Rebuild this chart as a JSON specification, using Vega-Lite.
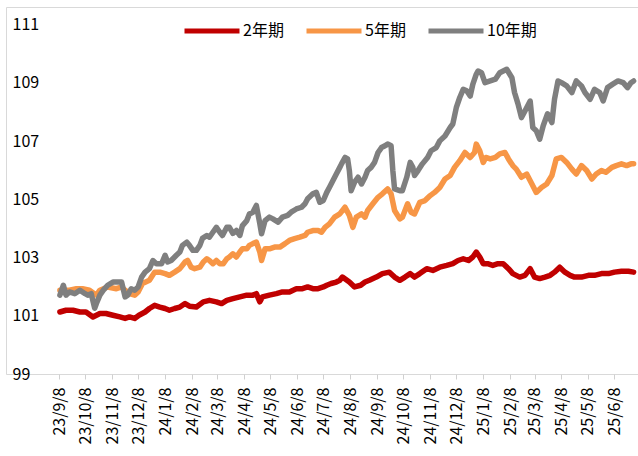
{
  "$schema": "https://vega.github.io/schema/vega-lite/v6.json",
  "width": 645,
  "height": 367,
  "autosize": "none",
  "padding": {"left": 6, "top": 7, "right": 0, "bottom": 82},
  "config": {
    "view": {"stroke": "#D9D9D9", "strokeWidth": 1},
    "font": "Noto Sans CJK SC"
  },
  "data": {
    "values": [
      {"d":"2023-09-09","s":"2年期","v":101.13},{"d":"2023-09-16","s":"2年期","v":101.19},{"d":"2023-09-24","s":"2年期","v":101.19},{"d":"2023-10-02","s":"2年期","v":101.13},{"d":"2023-10-09","s":"2年期","v":101.13},{"d":"2023-10-17","s":"2年期","v":100.96},{"d":"2023-10-25","s":"2年期","v":101.08},{"d":"2023-11-01","s":"2年期","v":101.08},{"d":"2023-11-09","s":"2年期","v":101.02},{"d":"2023-11-17","s":"2年期","v":100.96},{"d":"2023-11-23","s":"2年期","v":100.91},{"d":"2023-11-28","s":"2年期","v":100.96},{"d":"2023-12-04","s":"2年期","v":100.91},{"d":"2023-12-09","s":"2年期","v":101.02},{"d":"2023-12-16","s":"2年期","v":101.13},{"d":"2023-12-21","s":"2年期","v":101.25},{"d":"2023-12-27","s":"2年期","v":101.36},{"d":"2024-01-02","s":"2年期","v":101.30},{"d":"2024-01-08","s":"2年期","v":101.25},{"d":"2024-01-13","s":"2年期","v":101.19},{"d":"2024-01-19","s":"2年期","v":101.25},{"d":"2024-01-25","s":"2年期","v":101.30},{"d":"2024-01-31","s":"2年期","v":101.42},{"d":"2024-02-05","s":"2年期","v":101.33},{"d":"2024-02-13","s":"2年期","v":101.30},{"d":"2024-02-21","s":"2年期","v":101.48},{"d":"2024-02-28","s":"2年期","v":101.53},{"d":"2024-03-07","s":"2年期","v":101.48},{"d":"2024-03-13","s":"2年期","v":101.42},{"d":"2024-03-19","s":"2年期","v":101.53},{"d":"2024-03-26","s":"2年期","v":101.59},{"d":"2024-04-03","s":"2年期","v":101.65},{"d":"2024-04-11","s":"2年期","v":101.71},{"d":"2024-04-18","s":"2年期","v":101.71},{"d":"2024-04-22","s":"2年期","v":101.76},{"d":"2024-04-26","s":"2年期","v":101.48},{"d":"2024-04-29","s":"2年期","v":101.65},{"d":"2024-05-07","s":"2年期","v":101.71},{"d":"2024-05-15","s":"2年期","v":101.76},{"d":"2024-05-22","s":"2年期","v":101.82},{"d":"2024-05-30","s":"2年期","v":101.82},{"d":"2024-06-07","s":"2年期","v":101.93},{"d":"2024-06-14","s":"2年期","v":101.93},{"d":"2024-06-20","s":"2年期","v":101.99},{"d":"2024-06-26","s":"2年期","v":101.93},{"d":"2024-07-02","s":"2年期","v":101.93},{"d":"2024-07-08","s":"2年期","v":101.99},{"d":"2024-07-12","s":"2年期","v":102.05},{"d":"2024-07-17","s":"2年期","v":102.11},{"d":"2024-07-23","s":"2年期","v":102.16},{"d":"2024-07-27","s":"2年期","v":102.22},{"d":"2024-07-30","s":"2年期","v":102.33},{"d":"2024-08-07","s":"2年期","v":102.16},{"d":"2024-08-13","s":"2年期","v":101.99},{"d":"2024-08-20","s":"2年期","v":102.05},{"d":"2024-08-25","s":"2年期","v":102.16},{"d":"2024-08-30","s":"2年期","v":102.22},{"d":"2024-09-07","s":"2年期","v":102.33},{"d":"2024-09-14","s":"2年期","v":102.45},{"d":"2024-09-22","s":"2年期","v":102.50},{"d":"2024-09-28","s":"2年期","v":102.33},{"d":"2024-10-04","s":"2年期","v":102.22},{"d":"2024-10-10","s":"2年期","v":102.33},{"d":"2024-10-16","s":"2年期","v":102.45},{"d":"2024-10-21","s":"2年期","v":102.33},{"d":"2024-10-27","s":"2年期","v":102.45},{"d":"2024-11-04","s":"2年期","v":102.62},{"d":"2024-11-11","s":"2年期","v":102.56},{"d":"2024-11-19","s":"2年期","v":102.67},{"d":"2024-11-27","s":"2年期","v":102.73},{"d":"2024-12-04","s":"2年期","v":102.79},{"d":"2024-12-10","s":"2年期","v":102.90},{"d":"2024-12-16","s":"2年期","v":102.96},{"d":"2024-12-22","s":"2年期","v":102.90},{"d":"2024-12-27","s":"2年期","v":103.02},{"d":"2024-12-31","s":"2年期","v":103.19},{"d":"2025-01-04","s":"2年期","v":103.02},{"d":"2025-01-08","s":"2年期","v":102.79},{"d":"2025-01-13","s":"2年期","v":102.79},{"d":"2025-01-19","s":"2年期","v":102.73},{"d":"2025-01-25","s":"2年期","v":102.79},{"d":"2025-01-31","s":"2年期","v":102.79},{"d":"2025-02-06","s":"2年期","v":102.62},{"d":"2025-02-11","s":"2年期","v":102.45},{"d":"2025-02-19","s":"2年期","v":102.33},{"d":"2025-02-25","s":"2年期","v":102.39},{"d":"2025-03-03","s":"2年期","v":102.62},{"d":"2025-03-08","s":"2年期","v":102.33},{"d":"2025-03-14","s":"2年期","v":102.28},{"d":"2025-03-20","s":"2年期","v":102.33},{"d":"2025-03-26","s":"2年期","v":102.39},{"d":"2025-03-31","s":"2年期","v":102.50},{"d":"2025-04-06","s":"2年期","v":102.67},{"d":"2025-04-12","s":"2年期","v":102.50},{"d":"2025-04-18","s":"2年期","v":102.39},{"d":"2025-04-23","s":"2年期","v":102.33},{"d":"2025-05-01","s":"2年期","v":102.33},{"d":"2025-05-09","s":"2年期","v":102.39},{"d":"2025-05-16","s":"2年期","v":102.39},{"d":"2025-05-24","s":"2年期","v":102.45},{"d":"2025-06-01","s":"2年期","v":102.45},{"d":"2025-06-08","s":"2年期","v":102.50},{"d":"2025-06-16","s":"2年期","v":102.53},{"d":"2025-06-24","s":"2年期","v":102.53},{"d":"2025-06-30","s":"2年期","v":102.50},
      {"d":"2023-09-09","s":"5年期","v":101.88},{"d":"2023-09-20","s":"5年期","v":101.88},{"d":"2023-09-28","s":"5年期","v":101.93},{"d":"2023-10-05","s":"5年期","v":101.93},{"d":"2023-10-13","s":"5年期","v":101.88},{"d":"2023-10-21","s":"5年期","v":101.71},{"d":"2023-10-25","s":"5年期","v":101.88},{"d":"2023-11-03","s":"5年期","v":101.99},{"d":"2023-11-13","s":"5年期","v":101.93},{"d":"2023-11-19","s":"5年期","v":101.99},{"d":"2023-11-23","s":"5年期","v":101.88},{"d":"2023-11-28","s":"5年期","v":101.76},{"d":"2023-12-04","s":"5年期","v":101.71},{"d":"2023-12-08","s":"5年期","v":101.82},{"d":"2023-12-13","s":"5年期","v":102.11},{"d":"2023-12-21","s":"5年期","v":102.22},{"d":"2023-12-27","s":"5年期","v":102.50},{"d":"2024-01-02","s":"5年期","v":102.50},{"d":"2024-01-08","s":"5年期","v":102.45},{"d":"2024-01-13","s":"5年期","v":102.39},{"d":"2024-01-19","s":"5年期","v":102.50},{"d":"2024-01-25","s":"5年期","v":102.62},{"d":"2024-01-31","s":"5年期","v":102.85},{"d":"2024-02-03","s":"5年期","v":102.90},{"d":"2024-02-07","s":"5年期","v":102.67},{"d":"2024-02-11","s":"5年期","v":102.62},{"d":"2024-02-17","s":"5年期","v":102.67},{"d":"2024-02-21","s":"5年期","v":102.85},{"d":"2024-02-25","s":"5年期","v":102.96},{"d":"2024-02-28","s":"5年期","v":102.90},{"d":"2024-03-03","s":"5年期","v":102.79},{"d":"2024-03-07","s":"5年期","v":102.90},{"d":"2024-03-11","s":"5年期","v":102.79},{"d":"2024-03-15","s":"5年期","v":102.79},{"d":"2024-03-19","s":"5年期","v":102.96},{"d":"2024-03-22","s":"5年期","v":103.02},{"d":"2024-03-26","s":"5年期","v":103.13},{"d":"2024-03-30","s":"5年期","v":103.02},{"d":"2024-04-03","s":"5年期","v":103.19},{"d":"2024-04-06","s":"5年期","v":103.30},{"d":"2024-04-11","s":"5年期","v":103.30},{"d":"2024-04-14","s":"5年期","v":103.42},{"d":"2024-04-18","s":"5年期","v":103.48},{"d":"2024-04-22","s":"5年期","v":103.53},{"d":"2024-04-26","s":"5年期","v":103.19},{"d":"2024-04-28","s":"5年期","v":102.90},{"d":"2024-05-02","s":"5年期","v":103.30},{"d":"2024-05-07","s":"5年期","v":103.30},{"d":"2024-05-13","s":"5年期","v":103.36},{"d":"2024-05-19","s":"5年期","v":103.36},{"d":"2024-05-25","s":"5年期","v":103.48},{"d":"2024-05-30","s":"5年期","v":103.59},{"d":"2024-06-05","s":"5年期","v":103.65},{"d":"2024-06-11","s":"5年期","v":103.70},{"d":"2024-06-17","s":"5年期","v":103.76},{"d":"2024-06-20","s":"5年期","v":103.87},{"d":"2024-06-26","s":"5年期","v":103.93},{"d":"2024-07-02","s":"5年期","v":103.93},{"d":"2024-07-06","s":"5年期","v":103.87},{"d":"2024-07-10","s":"5年期","v":104.04},{"d":"2024-07-15","s":"5年期","v":104.16},{"d":"2024-07-21","s":"5年期","v":104.39},{"d":"2024-07-27","s":"5年期","v":104.50},{"d":"2024-08-02","s":"5年期","v":104.73},{"d":"2024-08-07","s":"5年期","v":104.45},{"d":"2024-08-11","s":"5年期","v":104.04},{"d":"2024-08-15","s":"5年期","v":104.39},{"d":"2024-08-21","s":"5年期","v":104.50},{"d":"2024-08-25","s":"5年期","v":104.39},{"d":"2024-08-28","s":"5年期","v":104.62},{"d":"2024-09-03","s":"5年期","v":104.85},{"d":"2024-09-09","s":"5年期","v":105.07},{"d":"2024-09-14","s":"5年期","v":105.19},{"d":"2024-09-20","s":"5年期","v":105.36},{"d":"2024-09-24","s":"5年期","v":105.19},{"d":"2024-09-28","s":"5年期","v":104.62},{"d":"2024-10-04","s":"5年期","v":104.33},{"d":"2024-10-07","s":"5年期","v":104.39},{"d":"2024-10-13","s":"5年期","v":104.85},{"d":"2024-10-17","s":"5年期","v":104.56},{"d":"2024-10-21","s":"5年期","v":104.50},{"d":"2024-10-27","s":"5年期","v":104.90},{"d":"2024-11-02","s":"5年期","v":104.96},{"d":"2024-11-08","s":"5年期","v":105.13},{"d":"2024-11-13","s":"5年期","v":105.24},{"d":"2024-11-19","s":"5年期","v":105.41},{"d":"2024-11-25","s":"5年期","v":105.70},{"d":"2024-12-01","s":"5年期","v":105.82},{"d":"2024-12-06","s":"5年期","v":106.10},{"d":"2024-12-12","s":"5年期","v":106.33},{"d":"2024-12-18","s":"5年期","v":106.61},{"d":"2024-12-24","s":"5年期","v":106.44},{"d":"2024-12-29","s":"5年期","v":106.61},{"d":"2024-12-31","s":"5年期","v":106.90},{"d":"2025-01-04","s":"5年期","v":106.67},{"d":"2025-01-08","s":"5年期","v":106.27},{"d":"2025-01-11","s":"5年期","v":106.44},{"d":"2025-01-16","s":"5年期","v":106.39},{"d":"2025-01-22","s":"5年期","v":106.44},{"d":"2025-01-27","s":"5年期","v":106.56},{"d":"2025-02-02","s":"5年期","v":106.61},{"d":"2025-02-06","s":"5年期","v":106.39},{"d":"2025-02-11","s":"5年期","v":106.16},{"d":"2025-02-15","s":"5年期","v":106.04},{"d":"2025-02-21","s":"5年期","v":105.76},{"d":"2025-02-27","s":"5年期","v":105.87},{"d":"2025-03-05","s":"5年期","v":105.53},{"d":"2025-03-10","s":"5年期","v":105.24},{"d":"2025-03-16","s":"5年期","v":105.41},{"d":"2025-03-22","s":"5年期","v":105.53},{"d":"2025-03-28","s":"5年期","v":105.82},{"d":"2025-04-02","s":"5年期","v":106.39},{"d":"2025-04-08","s":"5年期","v":106.44},{"d":"2025-04-14","s":"5年期","v":106.27},{"d":"2025-04-20","s":"5年期","v":106.04},{"d":"2025-04-25","s":"5年期","v":105.87},{"d":"2025-05-01","s":"5年期","v":106.16},{"d":"2025-05-07","s":"5年期","v":105.99},{"d":"2025-05-13","s":"5年期","v":105.70},{"d":"2025-05-18","s":"5年期","v":105.87},{"d":"2025-05-24","s":"5年期","v":105.99},{"d":"2025-05-29","s":"5年期","v":105.93},{"d":"2025-06-05","s":"5年期","v":106.10},{"d":"2025-06-10","s":"5年期","v":106.16},{"d":"2025-06-16","s":"5年期","v":106.22},{"d":"2025-06-22","s":"5年期","v":106.16},{"d":"2025-06-27","s":"5年期","v":106.22},{"d":"2025-06-30","s":"5年期","v":106.22},
      {"d":"2023-09-09","s":"10年期","v":101.71},{"d":"2023-09-13","s":"10年期","v":102.05},{"d":"2023-09-16","s":"10年期","v":101.71},{"d":"2023-09-20","s":"10年期","v":101.82},{"d":"2023-09-26","s":"10年期","v":101.76},{"d":"2023-10-02","s":"10年期","v":101.88},{"d":"2023-10-08","s":"10年期","v":101.76},{"d":"2023-10-11","s":"10年期","v":101.71},{"d":"2023-10-15","s":"10年期","v":101.76},{"d":"2023-10-19","s":"10年期","v":101.26},{"d":"2023-10-21","s":"10年期","v":101.42},{"d":"2023-10-25","s":"10年期","v":101.71},{"d":"2023-10-29","s":"10年期","v":101.88},{"d":"2023-11-03","s":"10年期","v":102.05},{"d":"2023-11-09","s":"10年期","v":102.16},{"d":"2023-11-15","s":"10年期","v":102.16},{"d":"2023-11-19","s":"10年期","v":102.16},{"d":"2023-11-23","s":"10年期","v":101.65},{"d":"2023-11-26","s":"10年期","v":101.71},{"d":"2023-11-30","s":"10年期","v":101.93},{"d":"2023-12-04","s":"10年期","v":101.88},{"d":"2023-12-08","s":"10年期","v":101.99},{"d":"2023-12-12","s":"10年期","v":102.33},{"d":"2023-12-16","s":"10年期","v":102.50},{"d":"2023-12-21","s":"10年期","v":102.62},{"d":"2023-12-25","s":"10年期","v":102.90},{"d":"2023-12-29","s":"10年期","v":102.79},{"d":"2024-01-04","s":"10年期","v":102.79},{"d":"2024-01-08","s":"10年期","v":103.08},{"d":"2024-01-11","s":"10年期","v":102.85},{"d":"2024-01-15","s":"10年期","v":102.90},{"d":"2024-01-21","s":"10年期","v":103.08},{"d":"2024-01-25","s":"10年期","v":103.19},{"d":"2024-01-28","s":"10年期","v":103.42},{"d":"2024-02-02","s":"10年期","v":103.53},{"d":"2024-02-05","s":"10年期","v":103.42},{"d":"2024-02-09","s":"10年期","v":103.25},{"d":"2024-02-13","s":"10年期","v":103.25},{"d":"2024-02-17","s":"10年期","v":103.42},{"d":"2024-02-20","s":"10年期","v":103.66},{"d":"2024-02-25","s":"10年期","v":103.76},{"d":"2024-02-28","s":"10年期","v":103.70},{"d":"2024-03-03","s":"10年期","v":103.87},{"d":"2024-03-07","s":"10年期","v":104.04},{"d":"2024-03-11","s":"10年期","v":103.87},{"d":"2024-03-14","s":"10年期","v":103.76},{"d":"2024-03-19","s":"10年期","v":104.04},{"d":"2024-03-22","s":"10年期","v":104.04},{"d":"2024-03-26","s":"10年期","v":103.83},{"d":"2024-03-30","s":"10年期","v":103.93},{"d":"2024-04-03","s":"10年期","v":103.76},{"d":"2024-04-06","s":"10年期","v":104.10},{"d":"2024-04-11","s":"10年期","v":104.27},{"d":"2024-04-14","s":"10年期","v":104.50},{"d":"2024-04-18","s":"10年期","v":104.56},{"d":"2024-04-22","s":"10年期","v":104.79},{"d":"2024-04-26","s":"10年期","v":104.16},{"d":"2024-04-28","s":"10年期","v":103.82},{"d":"2024-05-02","s":"10年期","v":104.27},{"d":"2024-05-07","s":"10年期","v":104.39},{"d":"2024-05-11","s":"10年期","v":104.33},{"d":"2024-05-17","s":"10年期","v":104.22},{"d":"2024-05-22","s":"10年期","v":104.39},{"d":"2024-05-28","s":"10年期","v":104.45},{"d":"2024-06-01","s":"10年期","v":104.56},{"d":"2024-06-07","s":"10年期","v":104.67},{"d":"2024-06-13","s":"10年期","v":104.73},{"d":"2024-06-17","s":"10年期","v":104.85},{"d":"2024-06-20","s":"10年期","v":105.02},{"d":"2024-06-26","s":"10年期","v":105.19},{"d":"2024-06-30","s":"10年期","v":105.24},{"d":"2024-07-04","s":"10年期","v":104.90},{"d":"2024-07-08","s":"10年期","v":104.96},{"d":"2024-07-12","s":"10年期","v":105.24},{"d":"2024-07-15","s":"10年期","v":105.41},{"d":"2024-07-19","s":"10年期","v":105.64},{"d":"2024-07-23","s":"10年期","v":105.87},{"d":"2024-07-27","s":"10年期","v":106.10},{"d":"2024-07-29","s":"10年期","v":106.22},{"d":"2024-08-02","s":"10年期","v":106.44},{"d":"2024-08-05","s":"10年期","v":106.39},{"d":"2024-08-07","s":"10年期","v":105.99},{"d":"2024-08-09","s":"10年期","v":105.30},{"d":"2024-08-13","s":"10年期","v":105.59},{"d":"2024-08-17","s":"10年期","v":105.76},{"d":"2024-08-21","s":"10年期","v":105.53},{"d":"2024-08-25","s":"10年期","v":105.76},{"d":"2024-08-28","s":"10年期","v":105.99},{"d":"2024-09-01","s":"10年期","v":106.10},{"d":"2024-09-05","s":"10年期","v":106.27},{"d":"2024-09-09","s":"10年期","v":106.61},{"d":"2024-09-13","s":"10年期","v":106.78},{"d":"2024-09-17","s":"10年期","v":106.84},{"d":"2024-09-20","s":"10年期","v":106.90},{"d":"2024-09-24","s":"10年期","v":106.84},{"d":"2024-09-26","s":"10年期","v":105.99},{"d":"2024-09-28","s":"10年期","v":105.36},{"d":"2024-10-04","s":"10年期","v":105.30},{"d":"2024-10-07","s":"10年期","v":105.30},{"d":"2024-10-12","s":"10年期","v":105.76},{"d":"2024-10-16","s":"10年期","v":106.27},{"d":"2024-10-19","s":"10年期","v":106.10},{"d":"2024-10-21","s":"10年期","v":105.82},{"d":"2024-10-25","s":"10年期","v":105.99},{"d":"2024-10-30","s":"10年期","v":106.22},{"d":"2024-11-05","s":"10年期","v":106.44},{"d":"2024-11-09","s":"10年期","v":106.67},{"d":"2024-11-15","s":"10年期","v":106.78},{"d":"2024-11-19","s":"10年期","v":107.01},{"d":"2024-11-25","s":"10年期","v":107.18},{"d":"2024-12-01","s":"10年期","v":107.47},{"d":"2024-12-04","s":"10年期","v":107.59},{"d":"2024-12-08","s":"10年期","v":108.15},{"d":"2024-12-12","s":"10年期","v":108.50},{"d":"2024-12-16","s":"10年期","v":108.78},{"d":"2024-12-20","s":"10年期","v":108.73},{"d":"2024-12-24","s":"10年期","v":108.55},{"d":"2024-12-27","s":"10年期","v":108.95},{"d":"2024-12-31","s":"10年期","v":109.30},{"d":"2025-01-02","s":"10年期","v":109.41},{"d":"2025-01-06","s":"10年期","v":109.35},{"d":"2025-01-10","s":"10年期","v":109.01},{"d":"2025-01-16","s":"10年期","v":109.07},{"d":"2025-01-22","s":"10年期","v":109.13},{"d":"2025-01-27","s":"10年期","v":109.35},{"d":"2025-02-04","s":"10年期","v":109.47},{"d":"2025-02-10","s":"10年期","v":109.18},{"d":"2025-02-13","s":"10年期","v":108.67},{"d":"2025-02-17","s":"10年期","v":108.28},{"d":"2025-02-21","s":"10年期","v":107.81},{"d":"2025-02-25","s":"10年期","v":108.04},{"d":"2025-03-03","s":"10年期","v":108.38},{"d":"2025-03-06","s":"10年期","v":107.47},{"d":"2025-03-10","s":"10年期","v":107.36},{"d":"2025-03-14","s":"10年期","v":107.07},{"d":"2025-03-18","s":"10年期","v":107.53},{"d":"2025-03-23","s":"10年期","v":107.94},{"d":"2025-03-28","s":"10年期","v":107.64},{"d":"2025-03-31","s":"10年期","v":108.44},{"d":"2025-04-04","s":"10年期","v":109.07},{"d":"2025-04-08","s":"10年期","v":109.01},{"d":"2025-04-14","s":"10年期","v":108.90},{"d":"2025-04-20","s":"10年期","v":108.67},{"d":"2025-04-25","s":"10年期","v":109.07},{"d":"2025-05-01","s":"10年期","v":108.90},{"d":"2025-05-05","s":"10年期","v":108.67},{"d":"2025-05-11","s":"10年期","v":108.44},{"d":"2025-05-16","s":"10年期","v":108.78},{"d":"2025-05-22","s":"10年期","v":108.67},{"d":"2025-05-26","s":"10年期","v":108.38},{"d":"2025-05-31","s":"10年期","v":108.84},{"d":"2025-06-06","s":"10年期","v":108.96},{"d":"2025-06-12","s":"10年期","v":109.07},{"d":"2025-06-18","s":"10年期","v":109.01},{"d":"2025-06-23","s":"10年期","v":108.84},{"d":"2025-06-27","s":"10年期","v":109.01},{"d":"2025-06-30","s":"10年期","v":109.07}
    ]
  },
  "mark": {"type": "line", "strokeWidth": 5.5, "strokeCap": "round", "strokeJoin": "round", "clip": true},
  "encoding": {
    "x": {
      "field": "d",
      "type": "temporal",
      "scale": {
        "type": "utc",
        "domain": [
          {"year": 2023, "month": 7, "date": 9, "utc": true},
          {"year": 2025, "month": 7, "date": 20, "utc": true}
        ]
      },
      "axis": {
        "title": null,
        "domain": false,
        "grid": false,
        "ticks": true,
        "tickSize": 5,
        "tickColor": "#D0D0D0",
        "labelAngle": 270,
        "labelAlign": "right",
        "labelBaseline": "middle",
        "labelPadding": 8,
        "labelFontSize": 16,
        "labelFont": "Noto Sans CJK SC",
        "labelColor": "#000000",
        "labelOverlap": false,
        "labelFlush": false,
        "labelBound": false,
        "format": "%y/%-m/%-d",
        "values": [
          {"year": 2023, "month": 9, "date": 8, "utc": true},
          {"year": 2023, "month": 10, "date": 8, "utc": true},
          {"year": 2023, "month": 11, "date": 8, "utc": true},
          {"year": 2023, "month": 12, "date": 8, "utc": true},
          {"year": 2024, "month": 1, "date": 8, "utc": true},
          {"year": 2024, "month": 2, "date": 8, "utc": true},
          {"year": 2024, "month": 3, "date": 8, "utc": true},
          {"year": 2024, "month": 4, "date": 8, "utc": true},
          {"year": 2024, "month": 5, "date": 8, "utc": true},
          {"year": 2024, "month": 6, "date": 8, "utc": true},
          {"year": 2024, "month": 7, "date": 8, "utc": true},
          {"year": 2024, "month": 8, "date": 8, "utc": true},
          {"year": 2024, "month": 9, "date": 8, "utc": true},
          {"year": 2024, "month": 10, "date": 8, "utc": true},
          {"year": 2024, "month": 11, "date": 8, "utc": true},
          {"year": 2024, "month": 12, "date": 8, "utc": true},
          {"year": 2025, "month": 1, "date": 8, "utc": true},
          {"year": 2025, "month": 2, "date": 8, "utc": true},
          {"year": 2025, "month": 3, "date": 8, "utc": true},
          {"year": 2025, "month": 4, "date": 8, "utc": true},
          {"year": 2025, "month": 5, "date": 8, "utc": true},
          {"year": 2025, "month": 6, "date": 8, "utc": true}
        ]
      }
    },
    "y": {
      "field": "v",
      "type": "quantitative",
      "scale": {"domain": [99, 111.61], "nice": false, "zero": false},
      "axis": {
        "title": null,
        "domain": false,
        "grid": false,
        "ticks": false,
        "values": [99, 101, 103, 105, 107, 109, 111],
        "labelAlign": "left",
        "labelBaseline": "middle",
        "labelPadding": 0,
        "offset": -6,
        "labelFontSize": 16,
        "labelFont": "Noto Sans CJK SC",
        "labelColor": "#000000"
      }
    },
    "color": {
      "field": "s",
      "type": "nominal",
      "scale": {"domain": ["2年期", "5年期", "10年期"], "range": ["#C00000", "#F79646", "#7F7F7F"]},
      "legend": {
        "title": null,
        "orient": "none",
        "legendX": 176,
        "legendY": -6,
        "direction": "horizontal",
        "symbolType": "stroke",
        "symbolSize": 3025,
        "symbolStrokeWidth": 5,
        "labelFontSize": 16,
        "labelFont": "Noto Sans CJK SC",
        "labelColor": "#000000",
        "labelOffset": 1,
        "columnPadding": 12
      }
    }
  }
}
